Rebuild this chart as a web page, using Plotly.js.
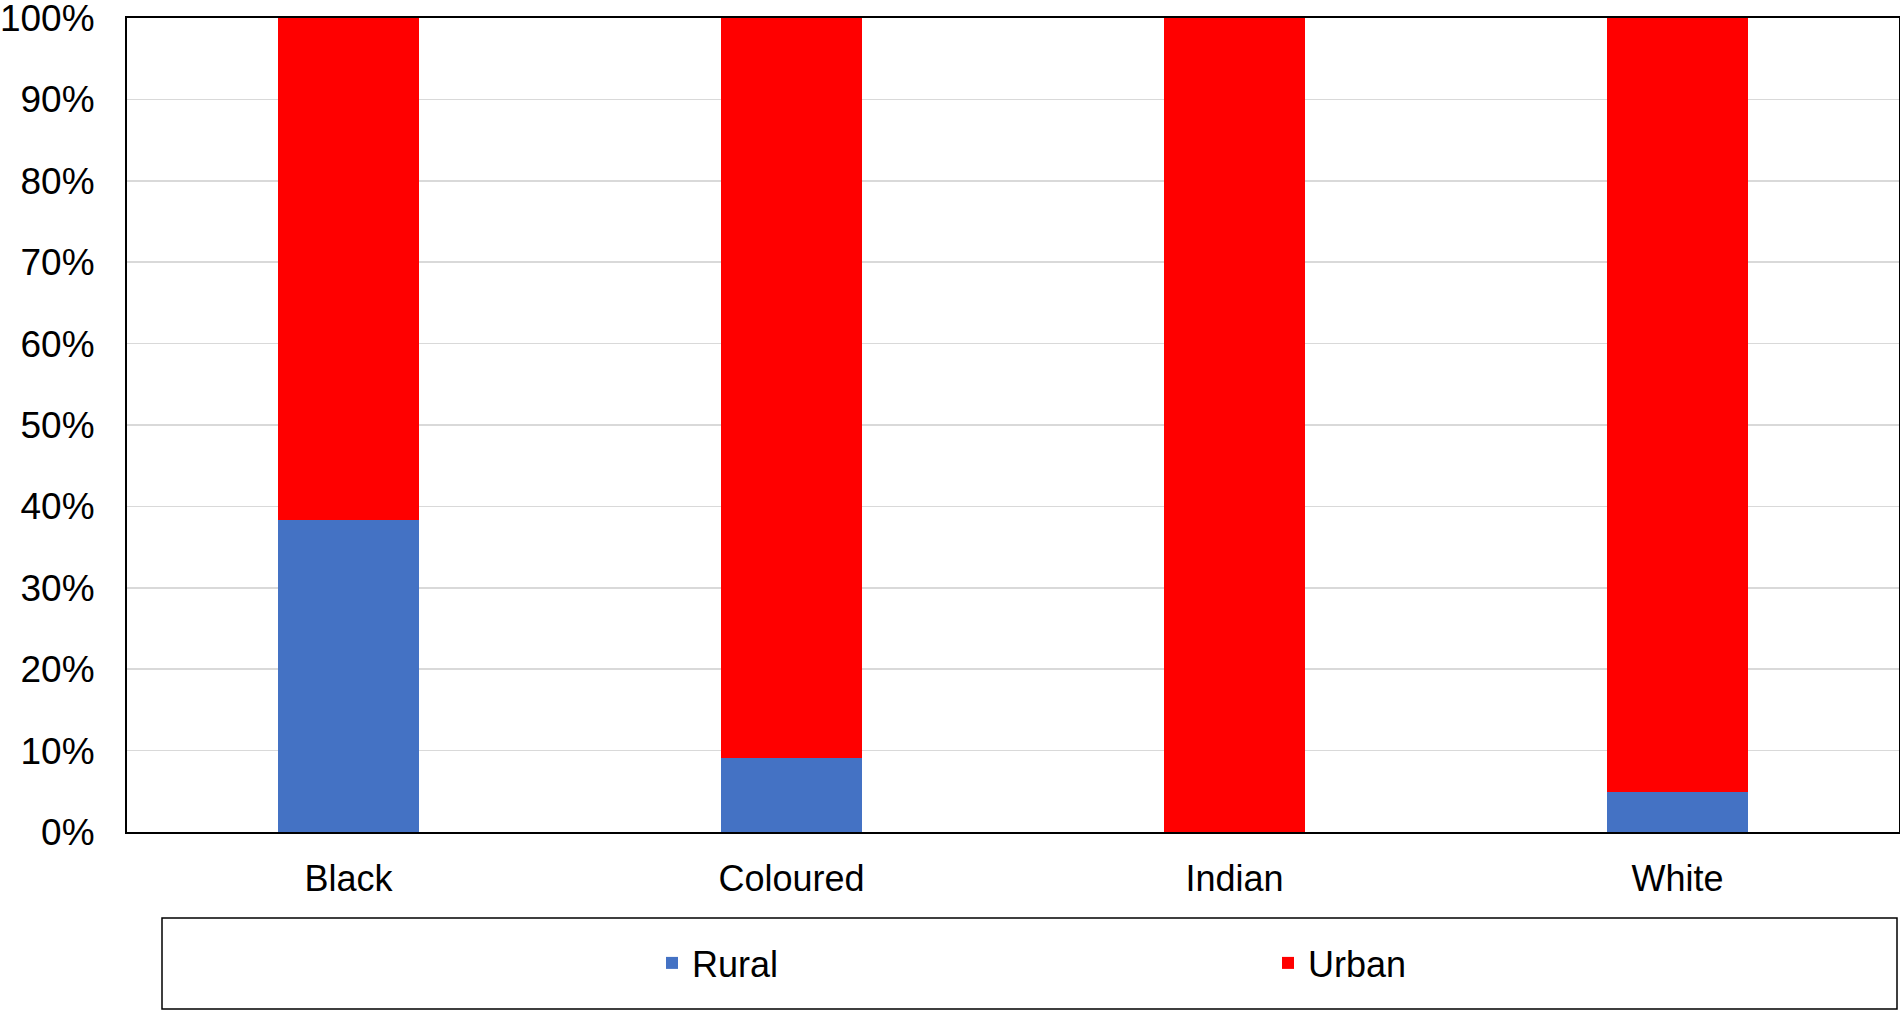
<!DOCTYPE html>
<html>
<head>
<meta charset="utf-8">
<script src="https://cdn.plot.ly/plotly-3.0.1.min.js"></script>
<style>html,body{margin:0;padding:0;background:#fff;}#chart{width:1900px;height:1011px;}</style>
</head>
<body>
<div id="chart"></div>
<script>
const categories = ["Black", "Coloured", "Indian", "White"];
const rural = [0.383, 0.091, 0.0, 0.049];
const urban = [0.617, 0.909, 1.0, 0.951];
const seriesNames = ["Rural", "Urban"];
const seriesColors = ["#4472C4", "#FF0000"];

const W = 1900, H = 1011;
const M = {l: 127, r: 1, t: 18, b: 179};
const pw = W - M.l - M.r, ph = H - M.t - M.b;
const px = v => (v - M.l) / pw;
const py = v => (H - M.b - v) / ph;

const font = "Liberation Sans, Arial, sans-serif";

const traces = [
  {type: "bar", name: seriesNames[0], x: categories, y: rural,
   marker: {color: seriesColors[0]}, legend: "legend", hoverinfo: "x+y+name"},
  {type: "bar", name: seriesNames[1], x: categories, y: urban,
   marker: {color: seriesColors[1]}, legend: "legend2", hoverinfo: "x+y+name"}
];

const legendCommon = {
  orientation: "h", xref: "container", yref: "container",
  yanchor: "middle", xanchor: "left", y: 1 - 963 / H,
  bgcolor: "rgba(0,0,0,0)", borderwidth: 0,
  font: {family: font, size: 36, color: "#000"}
};

const layout = {
  width: W, height: H,
  margin: M,
  paper_bgcolor: "#fff", plot_bgcolor: "#fff",
  barmode: "stack", bargap: 0.68,
  showlegend: true,
  font: {family: font, color: "#000"},
  xaxis: {
    type: "category", showline: true, mirror: true, linecolor: "#000", linewidth: 2,
    showgrid: false, zeroline: false, ticks: "",
    tickfont: {family: font, size: 36, color: "#000"}, ticklabelstandoff: 14
  },
  yaxis: {
    range: [0, 1], dtick: 0.1, tick0: 0, tickformat: ".0%",
    showline: true, mirror: true, linecolor: "#000", linewidth: 2,
    showgrid: true, gridcolor: "#d9d9d9", gridwidth: 1.5, zeroline: false, ticks: "",
    tickfont: {family: font, size: 37, color: "#000"}, ticklabelstandoff: 23,
    ticklabeloverflow: "allow"
  },
  legend: Object.assign({}, legendCommon, {x: (652) / W}),
  legend2: Object.assign({}, legendCommon, {x: (1268) / W}),
  shapes: [{
    type: "rect", xref: "paper", yref: "paper",
    x0: px(162), x1: px(1897), y0: py(1009), y1: py(918),
    line: {color: "#000", width: 1.5}, fillcolor: "rgba(0,0,0,0)", layer: "above"
  }]
};

Plotly.newPlot("chart", traces, layout, {displayModeBar: false, staticPlot: true});
</script>
</body>
</html>
